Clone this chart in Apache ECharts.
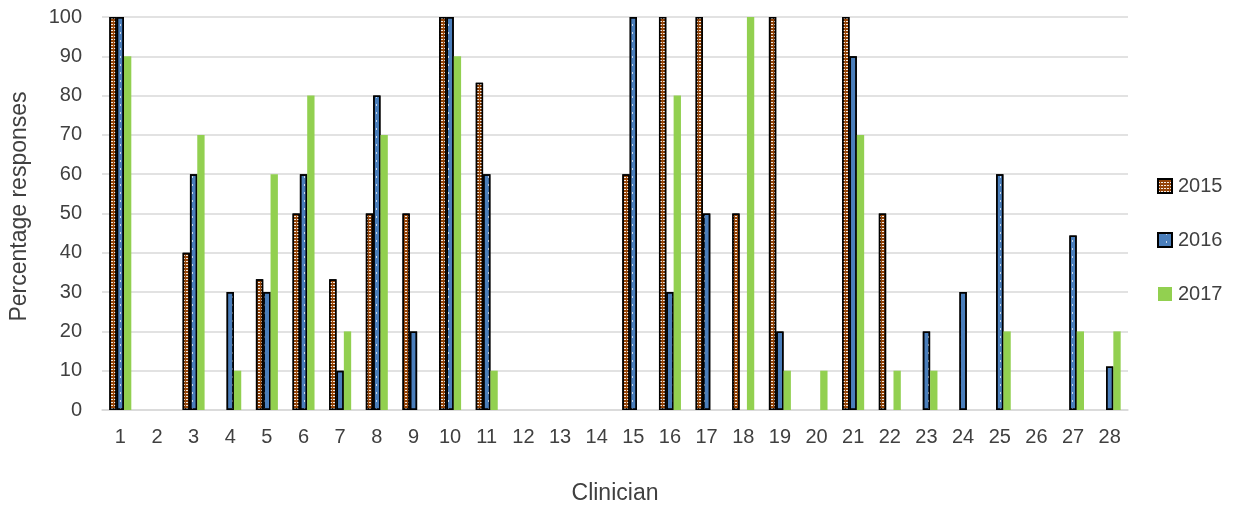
<!DOCTYPE html>
<html>
<head>
<meta charset="utf-8">
<script src="https://cdn.jsdelivr.net/npm/echarts@6/dist/echarts.min.js"></script>
<style>html,body{margin:0;padding:0;background:#fff}#c{width:1234px;height:508px}</style>
</head>
<body>
<div id="c"></div>
<script>
const categories = ['1','2','3','4','5','6','7','8','9','10','11','12','13','14','15','16','17','18','19','20','21','22','23','24','25','26','27','28'];
const yTicks = [0,10,20,30,40,50,60,70,80,90,100];
const seriesNames = ['2015','2016','2017'];
const v2015 = [100,null,40,null,33.3,50,33.3,50,50,100,83.3,null,null,null,60,100,100,50,100,null,100,50,null,null,null,null,null,null];
const v2016 = [100,null,60,30,30,60,10,80,20,100,60,null,null,null,100,30,50,null,20,null,90,null,20,30,60,null,44.4,11.1];
const v2017 = [90,null,70,10,60,80,20,70,null,90,10,null,null,null,null,80,null,100,10,10,70,10,10,null,20,null,20,20];

const chart = echarts.init(document.getElementById('c'), null, {renderer:'canvas'});
const font = '"Liberation Sans", "DejaVu Sans", sans-serif';
chart.setOption({
  animation:false,
  backgroundColor:'#fff',
  grid:{left:102, right:106, top:17, bottom:98, containLabel:false, outerBoundsMode:'none'},
  legend:{
    orient:'vertical', left:1157, top:176, padding:0, itemWidth:14, itemHeight:14, itemGap:34, icon:'rect',
    textStyle:{fontFamily:font, fontSize:20, color:'#404040', padding:[0,0,0,1]},
    data:seriesNames
  },
  xAxis:{
    type:'category', data:categories,
    name:'Clinician', nameLocation:'middle', nameGap:72,
    nameTextStyle:{fontFamily:font, fontSize:23, color:'#404040'},
    axisLine:{lineStyle:{color:'#d9d9d9', width:1.5}},
    axisTick:{show:false},
    axisLabel:{fontFamily:font, fontSize:20, color:'#404040', margin:17}
  },
  yAxis:{
    type:'value', min:0, max:100, interval:10,
    name:'Percentage responses', nameLocation:'middle', nameGap:71,
    nameTextStyle:{fontFamily:font, fontSize:23, color:'#404040', padding:[0,0,0,14]},
    axisLine:{show:false}, axisTick:{show:false},
    axisLabel:{fontFamily:font, fontSize:20, color:'#404040', margin:20},
    splitLine:{lineStyle:{color:'#d9d9d9', width:1.5}}
  },
  series:[
    {name:seriesNames[0], type:'bar', data:v2015, barGap:'0%', barCategoryGap:'40%',
     itemStyle:{color:'#944408', borderColor:'#000', borderWidth:1.5,
       decal:{symbol:'rect', color:'rgba(255,255,255,0.9)', dashArrayX:[2,1], dashArrayY:[1,2], symbolSize:1}}},
    {name:seriesNames[1], type:'bar', data:v2016,
     itemStyle:{color:'#4a7ebb', borderColor:'#000', borderWidth:1.5,
       decal:{symbol:'rect', color:'rgba(255,255,255,0.7)', dashArrayX:[[1,7]], dashArrayY:[2,6], symbolSize:1}}},
    {name:seriesNames[2], type:'bar', data:v2017,
     itemStyle:{color:'#92d050'}}
  ]
});
</script>
</body>
</html>
